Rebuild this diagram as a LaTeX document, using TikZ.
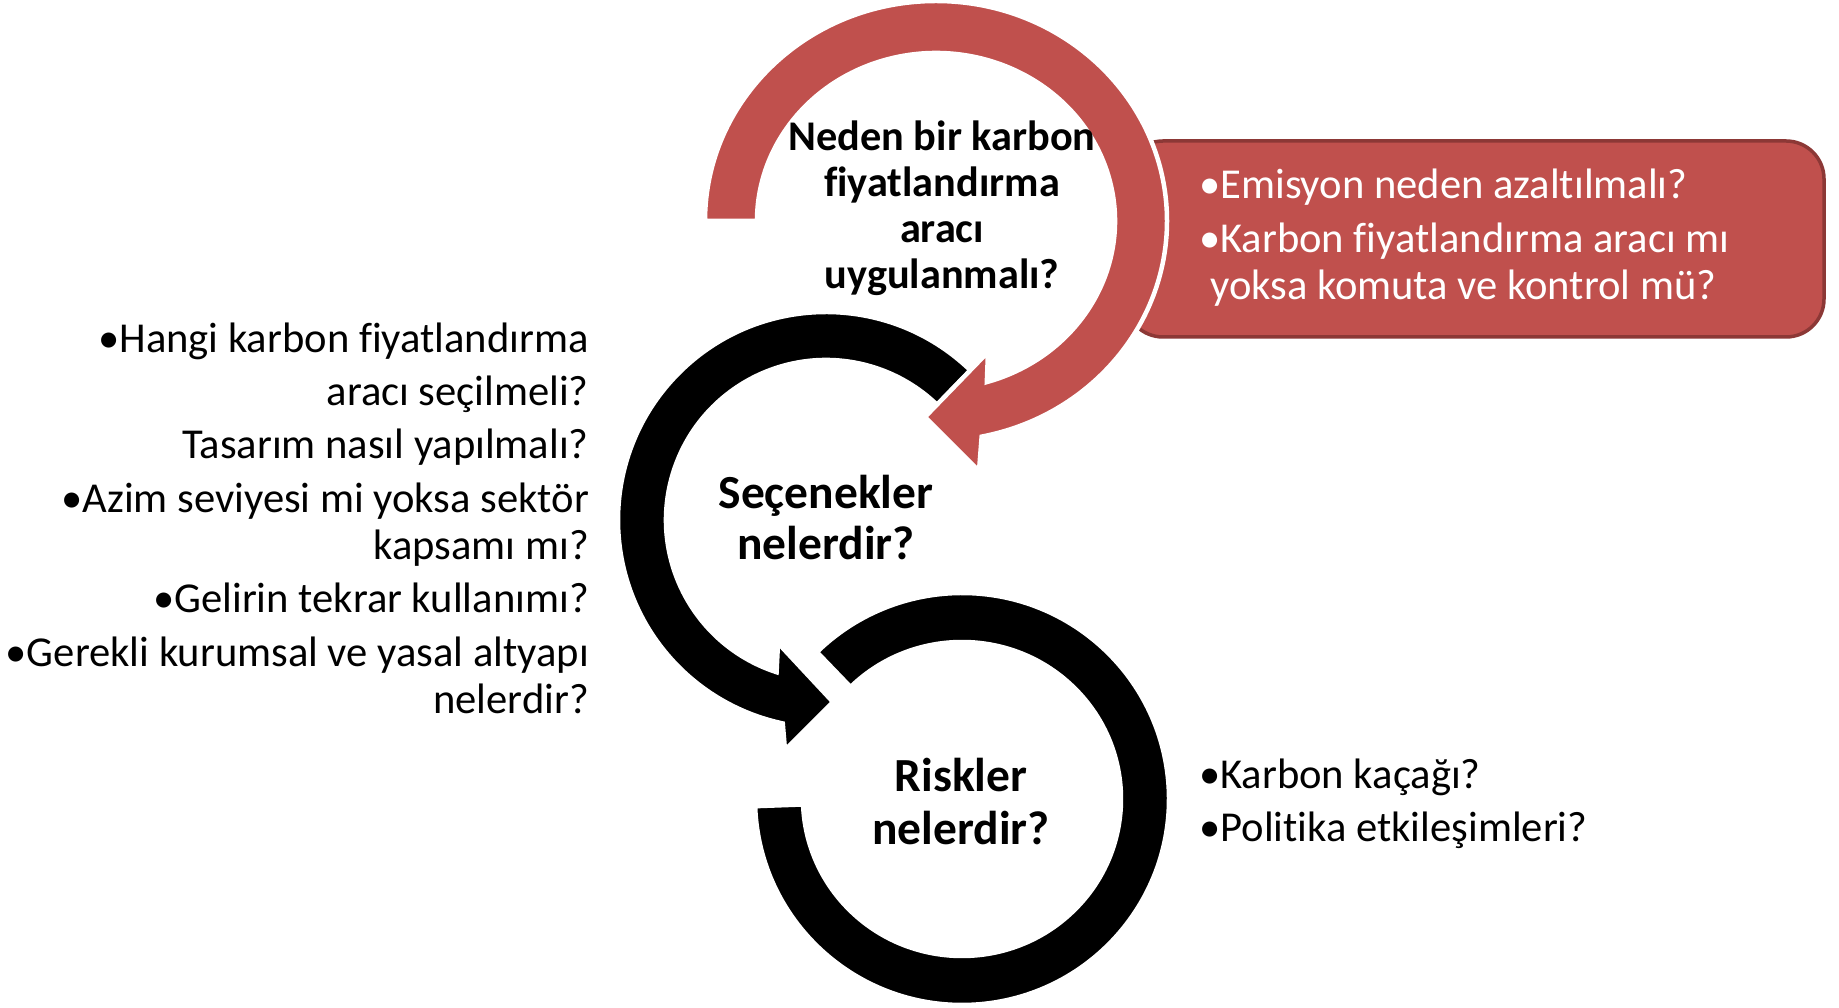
\documentclass[tikz,border=0pt]{standalone}
\usepackage{fontspec}
\setmainfont{Carlito}[Ligatures=NoCommon]
\usepackage{tikz}
\usetikzlibrary{calc,positioning}
\definecolor{ringred}{RGB}{192,80,77}
\definecolor{boxedge}{RGB}{140,56,54}
\tikzset{
  ringarrow/.style={draw=white,line width=4.5pt,line join=miter},
  redring/.style={ringarrow,fill=ringred},
  blackring/.style={ringarrow,fill=black},
  reasonbox/.style={rectangle,rounded corners=38pt,fill=ringred,draw=boxedge,line width=3.5pt,
                    minimum width=699pt,minimum height=196pt,inner sep=0pt},
  titletext/.style={align=center,inner sep=0pt,font=\fontsize{42.3}{46}\selectfont\bfseries},
  bigtitle/.style={titletext,font=\fontsize{47.5}{51}\selectfont\bfseries},
  listtext/.style={inner sep=0pt,font=\fontsize{42.6}{47}\selectfont}
}

\begin{document}
\begin{tikzpicture}[x=1pt,y=1pt]
  \useasboundingbox (0,0) rectangle (1839,1008);

  % box behind the red ring
  \node[reasonbox] (whybox) at (1474.5,769) {};

  % risk ring (no head)
  \begin{scope}[shift={(962,209)}]
    \filldraw[blackring] (182:207 and 206)
      arc[start angle=182,end angle=494.5,x radius=207,y radius=206]
      -- (494.5:159 and 157)
      arc[start angle=494.5,end angle=182,x radius=159,y radius=157] -- cycle;
  \end{scope}

  % options ring
  \begin{scope}[shift={(826,488)}]
    \filldraw[blackring] (46:208) arc[start angle=46,end angle=258,radius=208]
      -- (-41,-230) -- (7,-182) -- (-48,-123)
      -- (252:160) arc[start angle=252,end angle=46,radius=160] -- cycle;
  \end{scope}

  % why ring
  \begin{scope}[shift={(936,787)}]
    \filldraw[redring] (180:231 and 220)
      arc[start angle=180,end angle=-78.6,x radius=231,y radius=220]
      -- (43,-250) -- (-11,-196) -- (52,-131)
      -- (-73.5:179 and 168)
      arc[start angle=-73.5,end angle=180,x radius=179,y radius=168] -- cycle;
  \end{scope}

  \node[titletext] (whytitle) at (942,800)
    {Neden bir karbon\\fiyatlandırma\\aracı\\uygulanmalı?};
  \node[bigtitle] (opttitle) at (826,490)
    {Seçenekler\\nelerdir?};
  \node[bigtitle,font=\fontsize{47.5}{53}\selectfont\bfseries] (risktitle) at (961,206)
    {Riskler\\nelerdir?};

  \node[listtext,align=left,text=white,anchor=west] (whylist) at (1199,770)
    {•Emisyon neden azaltılmalı?\\[7pt]
     •Karbon fiyatlandırma aracı mı\\
     \hspace*{11pt}yoksa komuta ve kontrol mü?};

  \node[listtext,align=right,anchor=east] (optlist) at (589,489.5)
    {•Hangi karbon fiyatlandırma\\[6pt]
     aracı seçilmeli?\\[6pt]
     Tasarım nasıl yapılmalı?\\[7pt]
     •Azim seviyesi mi yoksa sektör\\
     kapsamı mı?\\[6pt]
     •Gelirin tekrar kullanımı?\\[7pt]
     •Gerekli kurumsal ve yasal altyapı\\
     nelerdir?};

  \node[listtext,align=left,anchor=west] (risklist) at (1199,204.5)
    {•Karbon kaçağı?\\[6pt]
     •Politika etkileşimleri?};
\end{tikzpicture}
\end{document}
